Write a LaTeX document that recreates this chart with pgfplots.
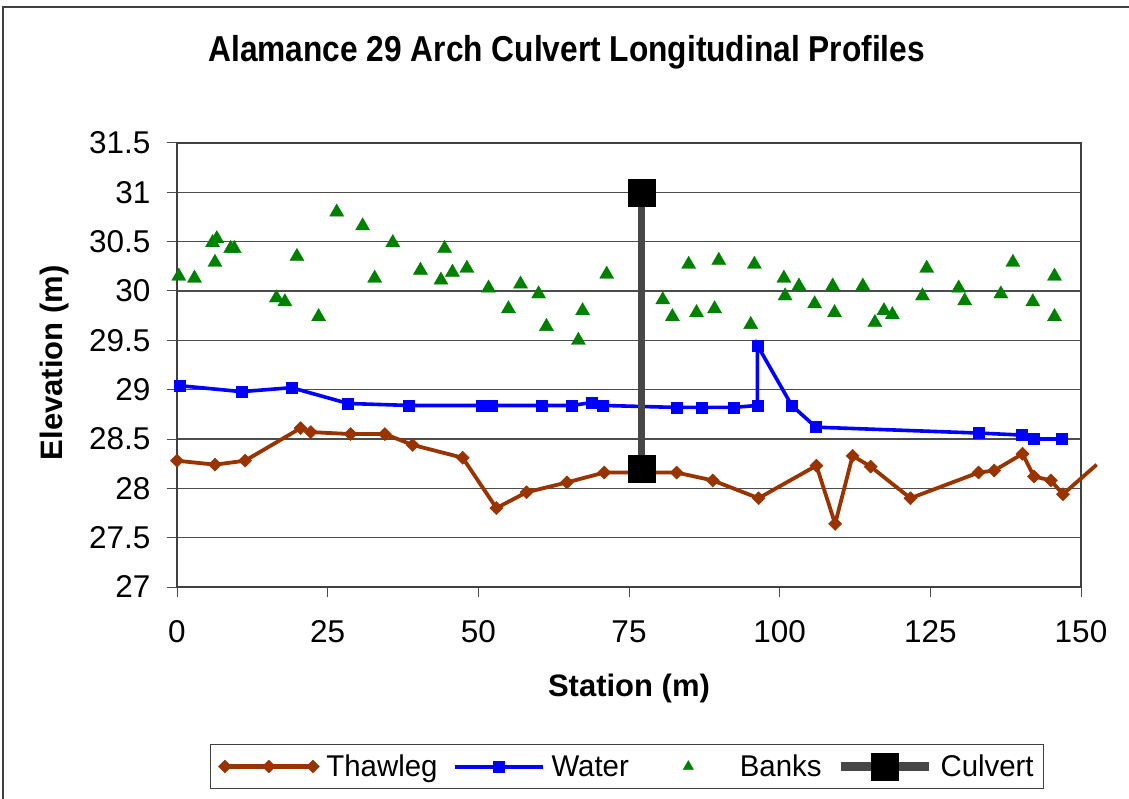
\documentclass[border=0pt]{standalone}
\usepackage{fontspec}
\setmainfont{Liberation Sans}
\newfontfamily\narrowsans[FakeStretch=0.88]{Liberation Sans}
\newfontfamily\legendsans[FakeStretch=0.98]{Liberation Sans}
\usepackage{pgfplots}
\usepackage{pgfplotstable}
\pgfplotsset{compat=1.18}

\definecolor{thalwegc}{RGB}{153,51,0}
\definecolor{waterc}{RGB}{0,0,255}
\definecolor{banksc}{RGB}{0,128,0}
\definecolor{framec}{RGB}{64,64,64}

% legend samples: a long line with one mark in the middle, or the mark alone
\pgfplotsset{
  long sample legend/.style={
    legend image code/.code={%
      \draw[mark repeat=2,mark phase=2,##1,line width=#1] plot coordinates {(0pt,0pt) (44pt,0pt) (88pt,0pt)};}},
  centred mark legend/.style={
    legend image code/.code={%
      \path (0pt,0pt) (88pt,0pt);
      \draw[##1,mark repeat=3,mark phase=2,draw=none,mark size=6pt] plot coordinates {(0pt,0pt) (44pt,0pt) (88pt,0pt)};}},
}

% Station (m) and elevation (m) of the surveyed points
\pgfplotstableread{
x y
0.0 28.28
6.3 28.24
11.3 28.28
20.5 28.61
22.2 28.57
28.8 28.55
34.5 28.55
39.1 28.44
47.4 28.31
53.0 27.80
58.0 27.96
64.7 28.06
70.9 28.16
82.9 28.16
88.9 28.08
96.5 27.90
106.1 28.23
109.2 27.64
112.1 28.33
115.1 28.22
121.7 27.90
133.0 28.16
135.6 28.18
140.3 28.35
142.2 28.12
145.0 28.08
147.0 27.94
152.6 28.24
}\thalweg

\pgfplotstableread{
x y
0.5 29.04
10.7 28.98
19.0 29.02
28.4 28.86
38.5 28.84
50.6 28.84
52.2 28.84
60.5 28.84
65.5 28.84
68.9 28.87
70.7 28.84
82.9 28.82
87.1 28.82
92.3 28.82
96.3 28.84
96.3 29.45
102.0 28.84
106.0 28.62
133.1 28.56
140.2 28.54
142.1 28.50
146.8 28.50
}\water

\pgfplotstableread{
x y
0.3 30.15
2.9 30.13
6.3 30.29
5.9 30.49
6.6 30.53
8.9 30.43
9.5 30.43
19.9 30.35
16.5 29.93
17.9 29.89
23.5 29.74
26.5 30.80
30.8 30.66
32.8 30.13
35.8 30.49
40.4 30.21
44.4 30.43
43.8 30.11
45.7 30.19
48.1 30.23
51.7 30.03
55.0 29.82
57.0 30.07
60.0 29.97
61.3 29.64
67.3 29.80
66.6 29.50
71.3 30.17
80.6 29.91
82.2 29.74
84.9 30.27
86.2 29.78
89.2 29.82
89.9 30.31
95.2 29.66
95.8 30.27
100.7 30.13
100.9 29.95
103.2 30.05
105.8 29.87
108.8 30.05
109.1 29.78
113.8 30.05
115.8 29.68
117.3 29.80
118.7 29.76
124.4 30.23
123.7 29.95
129.7 30.03
130.7 29.90
136.7 29.97
138.7 30.29
142.0 29.89
145.6 30.15
145.6 29.74
}\banks

\pgfplotstableread{
x y
77.1 28.20
77.1 31.00
}\culvert

\begin{document}
\begin{tikzpicture}[x=1pt,y=1pt]
\useasboundingbox (0,0) rectangle (1129,798);
% chart frame
\draw[framec, line width=2.2pt] (3,-20) -- (3,791) -- (1150,791);
\begin{axis}[
  at={(177pt,211pt)}, anchor=south west,
  scale only axis, width=904pt, height=444pt,
  xmin=0, xmax=150, ymin=27, ymax=31.5,
  xtick={0,25,...,150},
  ytick={27,27.5,...,31.5},
  yticklabels={27,27.5,28,28.5,29,29.5,30,30.5,31,31.5},
  clip=false,
  axis line style={black!75, line width=1.4pt},
  ymajorgrids,
  major grid style={black!70, line width=1.4pt},
  tick pos=left, tick align=outside,
  major tick length=10pt,
  tick style={black!70, line width=1pt},
  /pgf/number format/assume math mode=true,
  tick label style={font=\fontsize{31.5}{36}\selectfont},
  xticklabel style={yshift=-20pt},
  yticklabel style={xshift=-13pt},
  legend columns=4,
  legend style={
    at={(axis description cs:0.4978,-0.4043)}, anchor=center,
    draw=black!75, line width=1pt,
    font=\legendsans\fontsize{30}{34}\selectfont,
    inner xsep=8pt, inner ysep=8pt,
    /tikz/every even column/.append style={column sep=13pt},
    /tikz/every odd column/.append style={column sep=5pt},
  },
]
\addplot[color=thalwegc, line width=3.8pt, mark=square*, mark size=4.6pt,
  mark options={rotate=45, solid, line width=0.5pt},
  mark indices={1,...,27}, long sample legend=4.2pt] table {\thalweg};
\addlegendentry{Thawleg}
\addplot[color=waterc, line width=3.6pt, mark=square*, mark size=5.5pt,
  mark options={solid, line width=0.5pt}, long sample legend=4pt] table {\water};
\addlegendentry{Water}
\addplot[only marks, color=banksc, mark=triangle*, mark size=8.2pt,
  mark options={line width=0.3pt}, centred mark legend] table {\banks};
\addlegendentry{Banks}
\addplot[color=black!72, line width=6.5pt, mark=square*, mark size=13.5pt,
  mark options={black, solid, line width=0.5pt}, long sample legend=9pt] table {\culvert};
\addlegendentry{Culvert}
\node[font=\narrowsans\bfseries\fontsize{36}{40}\selectfont]
  at (axis description cs:0.431,1.205) {Alamance 29 Arch Culvert Longitudinal Profiles};
\node[font=\bfseries\fontsize{31}{36}\selectfont]
  at (axis description cs:0.5,-0.2275) {Station (m)};
\node[font=\bfseries\fontsize{31}{36}\selectfont, rotate=90]
  at (axis description cs:-0.136,0.505) {Elevation (m)};
\end{axis}
\end{tikzpicture}
\end{document}
